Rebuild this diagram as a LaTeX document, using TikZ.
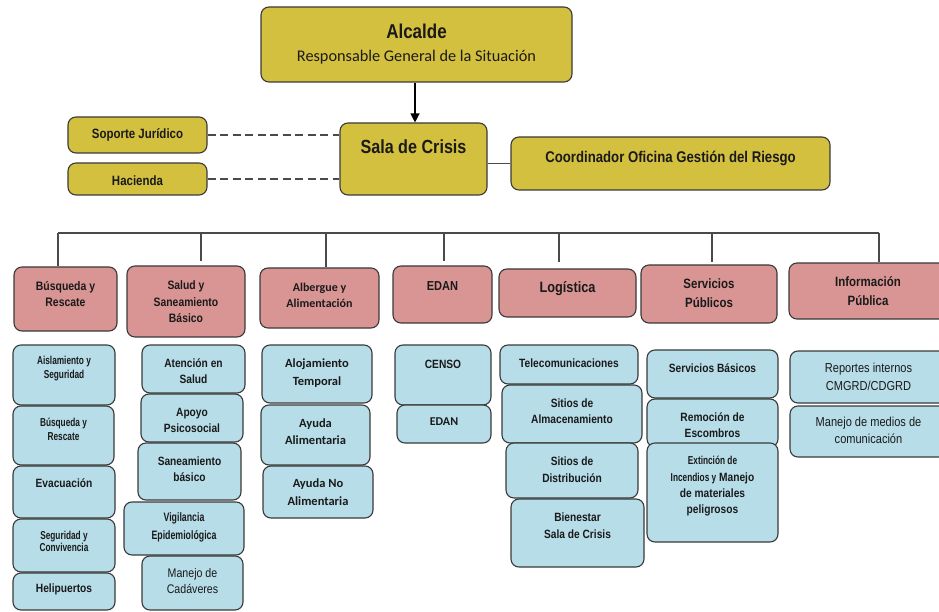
\documentclass[tikz,border=0pt]{standalone}
\usepackage{fontspec}
\usetikzlibrary{arrows.meta}
\newfontfamily\nar[FakeStretch=0.85]{Liberation Sans}
\newfontfamily\narc[FakeStretch=0.72]{Liberation Sans}
\newfontfamily\carl{Carlito}
\newcommand\myfs[2]{\fontsize{#1}{#2}\selectfont}
\definecolor{gold}{HTML}{D4C03F}
\definecolor{rosa}{HTML}{D99594}
\definecolor{celeste}{HTML}{B7DDE8}
\definecolor{borde}{HTML}{3A3A3A}
\definecolor{tinta}{HTML}{1A1A1A}
\definecolor{linea}{HTML}{4A4A4A}
\tikzset{
  box/.style={draw=borde,line width=1.1pt,rounded corners=8pt,inner sep=0pt,shape=rectangle},
  oro/.style={fill=gold},
  roja/.style={fill=rosa},
  azul/.style={fill=celeste},
  txt/.style={text=tinta,align=center,inner sep=0pt},
  conn/.style={draw=linea,line width=1.2pt},
  dashconn/.style={draw=linea,line width=1.4pt,dash pattern=on 8pt off 4.5pt},
  arr/.style={draw=black,line width=1.2pt,-{Triangle[length=9pt,width=9pt]}}
}
\newcommand\bx[9]{%
  \node[box,#2,minimum width={#6-#4},minimum height={#7-#5}] (#1) at ({(#4+#6)/2},{(#5+#7)/2}) {};
  \node[txt,font={#3}] (#1t) at ({(#4+#6)/2},#8) {#9};}
\begin{document}
\begin{tikzpicture}[x=1pt,y=-1pt]
\useasboundingbox (0,0) rectangle (939,612);
% top level
\node[box,oro,minimum width=311,minimum height=75] (alc) at (416.5,44.5) {};
\node[txt,font={\nar\bfseries\myfs{20}{24}}] (alct1) at (416.5,31) {Alcalde};
\node[txt,font={\carl\myfs{16.3}{19}}] (alct2) at (416.5,57) {Responsable General de la Situación};
\bx{sop}{oro}{\nar\bfseries\myfs{13.5}{16}}{68}{117}{207}{153}{135}{Soporte Jurídico}
\bx{hac}{oro}{\nar\bfseries\myfs{13.5}{16}}{68}{163}{207}{195}{181}{Hacienda}
\bx{sala}{oro}{\nar\bfseries\myfs{19}{22}}{340}{123}{487}{195}{147}{Sala de Crisis}
\bx{coord}{oro}{\nar\bfseries\myfs{15.5}{18}}{511}{137}{830}{190}{158}{Coordinador Oficina Gestión del Riesgo}
\draw[arr] (alc.south -| 415,0) -- (sala.north -| 415,0);
\draw[dashconn] (sop.east) -- (sop.east -| sala.west);
\draw[dashconn] (hac.east) -- (hac.east -| sala.west);
\draw[conn] (sala.east |- coord.west) -- (coord.west);
% headers
\bx{h1}{roja}{\nar\bfseries\myfs{12.3}{16}}{14}{267}{117}{331}{294}{Búsqueda y\\Rescate}
\bx{h2}{roja}{\nar\bfseries\myfs{12.2}{16.5}}{127}{266}{245}{337}{302}{Salud y\\Saneamiento\\Básico}
\bx{h3}{roja}{\carl\bfseries\myfs{12}{15.5}}{260}{268}{379}{328}{295.5}{Albergue y\\Alimentación}
\bx{h4}{roja}{\nar\bfseries\myfs{13}{16}}{393}{266}{492}{323}{286}{EDAN}
\bx{h5}{roja}{\nar\bfseries\myfs{15}{18}}{499}{269}{636}{317}{289}{Logística}
\bx{h6}{roja}{\nar\bfseries\myfs{13.5}{19}}{641}{265}{777}{323}{293.5}{Servicios\\Públicos}
\bx{h7}{roja}{\nar\bfseries\myfs{13.5}{19}}{789}{263}{947}{319}{291.5}{Información\\Pública}
% bus
\coordinate (busL) at (58,233);
\coordinate (busR) at (879,233);
\draw[conn] (busL) -- (busR);
\draw[conn] (busL) -- ([xshift=-7.5pt]h1.north);
\draw[conn] ([xshift=15pt]h2.north |- busL) -- ([xshift=15pt,yshift=4pt]h2.north);
\draw[conn] ([xshift=6.5pt]h3.north |- busL) -- ([xshift=6.5pt]h3.north);
\draw[conn] ([xshift=1.5pt]h4.north |- busL) -- ([xshift=1.5pt,yshift=4pt]h4.north);
\draw[conn] ([xshift=-8.5pt]h5.north |- busL) -- ([xshift=-8.5pt,yshift=6pt]h5.north);
\draw[conn] ([xshift=3pt]h6.north |- busL) -- ([xshift=3pt,yshift=2pt]h6.north);
\draw[conn] (busR) -- (busR |- h7.north);
% column 1
\bx{a1}{azul}{\narc\bfseries\myfs{11.5}{14}}{13}{345}{115}{405}{369}{Aislamiento y\\Seguridad}
\bx{a2}{azul}{\narc\bfseries\myfs{11.5}{13.5}}{13}{406}{114}{465}{429.5}{Búsqueda y\\Rescate}
\bx{a3}{azul}{\nar\bfseries\myfs{12}{15}}{13}{466}{115}{518}{483}{Evacuación}
\bx{a4}{azul}{\narc\bfseries\myfs{11.5}{12.5}}{13}{519}{115}{572}{541.5}{Seguridad y\\Convivencia}
\bx{a5}{azul}{\nar\bfseries\myfs{12}{15}}{13}{573}{115}{610}{589}{Helipuertos}
% column 2
\bx{s1}{azul}{\nar\bfseries\myfs{12}{16}}{142}{345}{245}{393}{371}{Atención en\\Salud}
\bx{s2}{azul}{\nar\bfseries\myfs{12}{16}}{141}{394}{243}{442}{420}{Apoyo\\Psicosocial}
\bx{s3}{azul}{\nar\bfseries\myfs{12}{16}}{138}{443}{241}{500}{469}{Saneamiento\\básico}
\bx{s4}{azul}{\narc\bfseries\myfs{12.2}{18}}{124}{502}{244}{555}{527}{Vigilancia\\Epidemiológica}
\bx{s5}{azul}{\nar\myfs{12.5}{16}}{142}{556}{243}{610}{581}{Manejo de\\Cadáveres}
% column 3
\bx{l1}{azul}{\carl\bfseries\myfs{12.5}{18}}{262}{345}{372}{403}{373}{Alojamiento\\Temporal}
\bx{l2}{azul}{\carl\bfseries\myfs{12.5}{17}}{261}{405}{370}{465}{431.5}{Ayuda\\Alimentaria}
\bx{l3}{azul}{\carl\bfseries\myfs{12.5}{18}}{263}{466}{373}{518}{492}{Ayuda No\\Alimentaria}
% column 4
\bx{e1}{azul}{\nar\bfseries\myfs{12}{15}}{395}{345}{491}{405}{364}{CENSO}
\bx{e2}{azul}{\carl\bfseries\myfs{12}{15}}{397}{405}{491}{443}{422}{EDAN}
% column 5
\bx{g1}{azul}{\nar\bfseries\myfs{12}{15}}{500}{345}{638}{384}{363}{Telecomunicaciones}
\bx{g2}{azul}{\nar\bfseries\myfs{12}{16}}{502}{385}{642}{443}{411}{Sitios de\\Almacenamiento}
\bx{g3}{azul}{\nar\bfseries\myfs{12}{17}}{506}{443}{638}{498}{469.5}{Sitios de\\Distribución}
\bx{g4}{azul}{\nar\bfseries\myfs{12}{17}}{511}{499}{644}{567}{525.5}{Bienestar\\Sala de Crisis}
% column 6
\bx{p1}{azul}{\nar\bfseries\myfs{12}{15}}{647}{350}{778}{398}{368}{Servicios Básicos}
\bx{p2}{azul}{\nar\bfseries\myfs{12}{16}}{647}{399}{778}{447}{425}{Remoción de\\Escombros}
\bx{p3}{azul}{\nar\bfseries\myfs{12}{16.3}}{647}{443}{778}{542}{486.5}{{\narc\myfs{11.5}{16.3}Extinción de}\\{\narc\myfs{11.5}{16.3}Incendios y} Manejo\\de materiales\\peligrosos}
% column 7
\bx{i1}{azul}{\nar\myfs{13}{18}}{790}{351}{947}{403}{377}{Reportes internos\\CMGRD/CDGRD}
\bx{i2}{azul}{\nar\myfs{13}{17}}{790}{406}{947}{457}{430.5}{Manejo de medios de\\comunicación}
\end{tikzpicture}
\end{document}
